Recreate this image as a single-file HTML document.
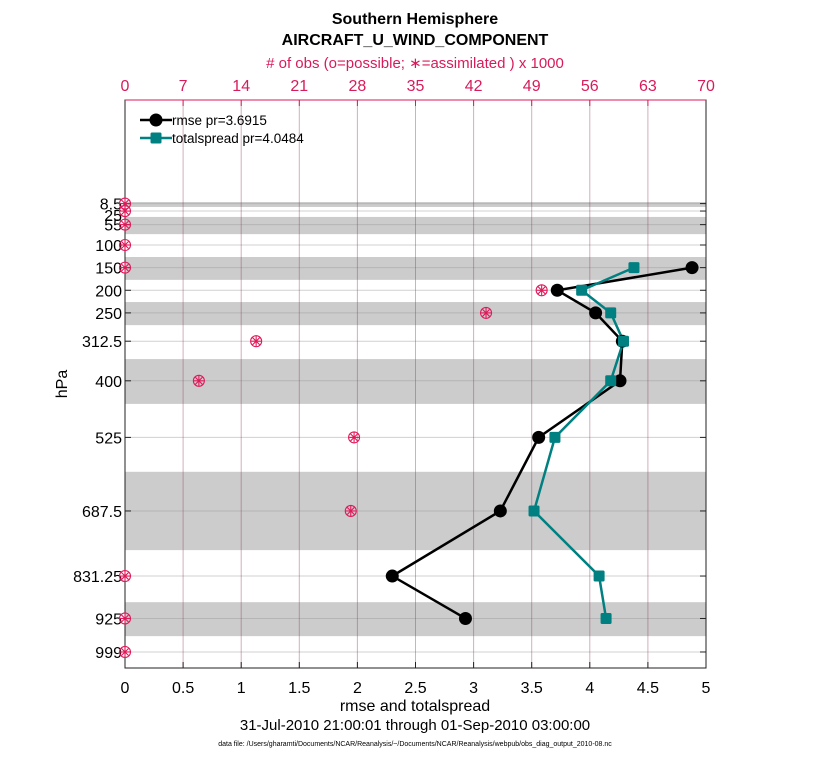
<!DOCTYPE html>
<html><head><meta charset="utf-8"><style>
body{margin:0;background:#fff;font-family:"Liberation Sans",Arial,sans-serif}
</style></head><body>
<svg id="c" width="830" height="760" xmlns="http://www.w3.org/2000/svg" font-family="Liberation Sans, Arial, sans-serif">
<text x="415" y="24" text-anchor="middle" font-size="16" font-weight="bold">Southern Hemisphere</text>
<text x="415" y="45" text-anchor="middle" font-size="16" font-weight="bold">AIRCRAFT_U_WIND_COMPONENT</text>
<text x="415" y="68" text-anchor="middle" font-size="15" fill="#d81b5a"># of obs (o=possible; ∗=assimilated ) x 1000</text>
<text x="415" y="711" text-anchor="middle" font-size="16">rmse and totalspread</text>
<text x="415" y="730" text-anchor="middle" font-size="15">31-Jul-2010 21:00:01 through 01-Sep-2010 03:00:00</text>
<text x="415" y="746" text-anchor="middle" font-size="7">data file: /Users/gharamti/Documents/NCAR/Reanalysis/~/Documents/NCAR/Reanalysis/webpub/obs_diag_output_2010-08.nc</text>
<text transform="translate(67,384) rotate(-90)" text-anchor="middle" font-size="16">hPa</text>
<g id="plot"></g>
</svg>
<script>
const levels=[8.5,25,55,100,150,200,250,312.5,400,525,687.5,831.25,925,999];
const levelLabels=["8.5","25","55","100","150","200","250","312.5","400","525","687.5","831.25","925","999"];
const bandLow=[5,38,126.5,226,352,601,889];
const bandHigh=[16,76,177,277,451,774,964];
const rmseLevels=[150,200,250,312.5,400,525,687.5,831.25,925];
const rmse=[4.88,3.72,4.05,4.28,4.26,3.56,3.23,2.3,2.93];
const spread=[4.38,3.93,4.18,4.29,4.18,3.7,3.52,4.08,4.14];
const obsPossible=[0,0,0,0,0,50.2,43.5,15.8,8.9,27.6,27.2,0,0,0];
const xTicks=[0,0.5,1,1.5,2,2.5,3,3.5,4,4.5,5];
const xTickLabels=["0","0.5","1","1.5","2","2.5","3","3.5","4","4.5","5"];
const topTicks=[0,7,14,21,28,35,42,49,56,63,70];
const L=125,R=706,T=100,B=668;
const x=v=>L+(v/5)*(R-L);
const xt=v=>L+(v/70)*(R-L);
const y=p=>245+(p-100)*0.4527;
const NS="http://www.w3.org/2000/svg";
const g=document.getElementById('plot');
function mk(t,a,parent){const e=document.createElementNS(NS,t);for(const k in a)e.setAttribute(k,a[k]);(parent||g).appendChild(e);return e;}
bandLow.forEach((lo,i)=>{const e=mk('rect',{x:L,y:y(lo),width:R-L,height:y(bandHigh[i])-y(lo),fill:'#cccccc'});

});
levels.forEach(p=>{const e=mk('line',{x1:L,x2:R,y1:y(p),y2:y(p),stroke:'#999',"stroke-opacity":0.45,"stroke-width":1});

});
topTicks.forEach(t=>{const e=mk('line',{x1:xt(t),x2:xt(t),y1:T,y2:B,stroke:'#8a3a55',"stroke-opacity":0.4,"stroke-width":1});


const m=mk('line',{x1:xt(t),x2:xt(t),y1:T,y2:T+6,stroke:'#d81b5a'});


const s=mk('text',{x:xt(t),y:T-9,"text-anchor":'middle',"font-size":16,fill:'#d81b5a'});s.textContent=t;

});
mk('rect',{x:L,y:T,width:R-L,height:B-T,fill:'none',stroke:'#222',"stroke-width":1});
mk('line',{x1:L,x2:R,y1:T,y2:T,stroke:'#d81b5a',"stroke-width":1});
xTicks.forEach((t,i)=>{mk('line',{x1:x(t),x2:x(t),y1:B,y2:B-6,stroke:'#222'});
const s=mk('text',{x:x(t),y:B+25,"text-anchor":'middle',"font-size":16});s.textContent=xTickLabels[i];

});
levels.forEach((p,i)=>{mk('line',{x1:L,x2:L+6,y1:y(p),y2:y(p),stroke:'#222'});mk('line',{x1:R,x2:R-6,y1:y(p),y2:y(p),stroke:'#222'});
const dy=(i==1)?4:0;
const s=mk('text',{x:L-3,y:y(p)+6+dy,"text-anchor":'end',"font-size":16});s.textContent=levelLabels[i];

});
function line(vals,col,name){const pts=vals.map((v,i)=>x(v)+','+y(rmseLevels[i])).join(' ');
const e=mk('polyline',{points:pts,fill:'none',stroke:col,"stroke-width":2.5});

}
line(rmse,'#000','rmse-line');line(spread,'#008080','spread-line');
rmse.forEach((v,i)=>{const e=mk('circle',{cx:x(v),cy:y(rmseLevels[i]),r:6.5,fill:'#000'});

});
spread.forEach((v,i)=>{const e=mk('rect',{x:x(v)-5.5,y:y(rmseLevels[i])-5.5,width:11,height:11,fill:'#008080',rx:1.5});

});
obsPossible.forEach((v,i)=>{const cx=xt(v),cy=y(levels[i]);
const gg=mk('g',{stroke:'#e0195a',"stroke-width":1.1,fill:'none'});


mk('circle',{cx:cx,cy:cy,r:5.5},gg);
for(let a=0;a<4;a++){const an=a*Math.PI/4;mk('line',{x1:cx-5*Math.cos(an),y1:cy-5*Math.sin(an),x2:cx+5*Math.cos(an),y2:cy+5*Math.sin(an)},gg);}});
const lg=mk('g',{});


mk('line',{x1:140,x2:172,y1:120,y2:120,stroke:'#000',"stroke-width":2.5},lg);
mk('circle',{cx:156,cy:120,r:6.5,fill:'#000'},lg);
const t1=mk('text',{x:172,y:125,"font-size":13.5},lg);t1.textContent='rmse pr=3.6915';
mk('line',{x1:140,x2:172,y1:138,y2:138,stroke:'#008080',"stroke-width":2.5},lg);
mk('rect',{x:150.5,y:132.5,width:11,height:11,fill:'#008080',rx:1.5},lg);
const t2=mk('text',{x:172,y:143,"font-size":13.5},lg);t2.textContent='totalspread pr=4.0484';
</script>
</body></html>
